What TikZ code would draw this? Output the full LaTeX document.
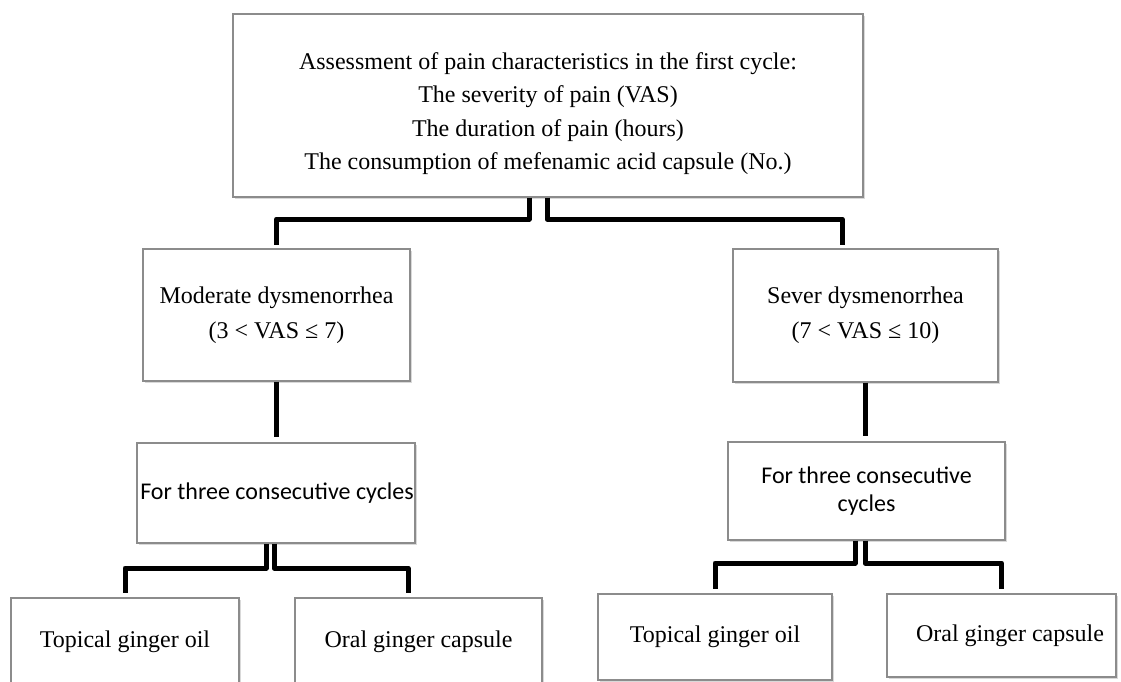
\documentclass[tikz,border=0pt]{standalone}
\usepackage{fontspec}
\setmainfont{Liberation Serif}
\newfontfamily\calib{Carlito}
\usetikzlibrary{calc,shadows}
\begin{document}
\begin{tikzpicture}[x=1pt,y=-1pt,
  box/.style={draw=black!45, line width=1.1pt, fill=white, inner sep=0pt,
    drop shadow={shadow xshift=1.8pt, shadow yshift=-1.8pt, opacity=0.25, fill=black!60}},
  txt/.style={align=center, inner sep=0pt, font=\fontsize{24}{35}\selectfont},
  conn/.style={line width=5pt, line join=round, line cap=butt, black}]
\useasboundingbox (0,0) rectangle (1121,682);
\clip (0,0) rectangle (1121,682);

% boxes
\node[box, minimum width=630pt, minimum height=183pt] (top) at (548,105.5) {};
\node[box, minimum width=267pt, minimum height=132pt] (mod) at (276.5,315) {};
\node[box, minimum width=265pt, minimum height=133pt] (sev) at (865.5,315.5) {};
\node[box, minimum width=278pt, minimum height=100pt] (cycL) at (276,493) {};
\node[box, minimum width=277pt, minimum height=98pt] (cycR) at (866.5,491) {};
\node[box, minimum width=228pt, minimum height=90pt] (topL) at (125,643) {};
\node[box, minimum width=247pt, minimum height=90pt] (oralL) at (418.5,643) {};
\node[box, minimum width=234pt, minimum height=86pt] (topR) at (715,637) {};
\node[box, minimum width=229pt, minimum height=83pt] (oralR) at (1001.5,635.5) {};

% texts
\node[txt, font=\fontsize{24}{33.5}\selectfont] (toptxt) at ($(top.center)+(0,8)$)
  {Assessment of pain characteristics in the first cycle:\\
   The severity of pain (VAS)\\
   The duration of pain (hours)\\
   The consumption of mefenamic acid capsule (No.)};
\node[txt] (modtxt) at (mod.center) {Moderate dysmenorrhea\\(3 < VAS ≤ 7)};
\node[txt] (sevtxt) at (sev.center) {Sever dysmenorrhea\\(7 < VAS ≤ 10)};
\node[txt, font=\calib\fontsize{24}{29}\selectfont] (cycLtxt) at ($(cycL.center)+(1,0)$) {For three consecutive cycles};
\node[txt, font=\calib\fontsize{24}{28}\selectfont] (cycRtxt) at (cycR.center) {For three consecutive\\cycles};
\node[txt] (topLtxt) at (125,642) {Topical ginger oil};
\node[txt] (oralLtxt) at (418.5,642) {Oral ginger capsule};
\node[txt] (topRtxt) at (topR.center) {Topical ginger oil};
\node[txt] (oralRtxt) at (1010,636) {Oral ginger capsule};

% connectors: top level
\coordinate (tl) at ([xshift=-19pt]top.south);
\coordinate (tr) at ([xshift=-1pt]top.south);
\coordinate (modin) at ([yshift=3pt]mod.north);
\coordinate (sevin) at ([xshift=-23.5pt,yshift=3pt]sev.north);
\draw[conn] (tl) -- (tl |- 0,219) -| (modin);
\draw[conn] (tr) -- (tr |- 0,219) -| (sevin);

% second level
\draw[conn] (mod.south) -- ([yshift=5pt]mod.south |- cycL.north);
\draw[conn] (sev.south) -- ([yshift=5pt]sev.south |- cycR.north);

% third level left
\coordinate (cl1) at ([xshift=-10pt]cycL.south);
\coordinate (cl2) at ([xshift=-2pt]cycL.south);
\draw[conn] (cl1) -- (cl1 |- 0,568) -| ([yshift=4pt]topL.north);
\draw[conn] (cl2) -- (cl2 |- 0,568) -| ([xshift=-10.5pt,yshift=4pt]oralL.north);

% third level right
\coordinate (cr1) at ([xshift=-11.5pt]cycR.south);
\coordinate (cr2) at ([xshift=-1.5pt]cycR.south);
\draw[conn] (cr1) -- (cr1 |- 0,563) -| ([yshift=4pt]topR.north);
\draw[conn] (cr2) -- (cr2 |- 0,563) -| ([yshift=4pt]oralR.north);
\end{tikzpicture}
\end{document}
